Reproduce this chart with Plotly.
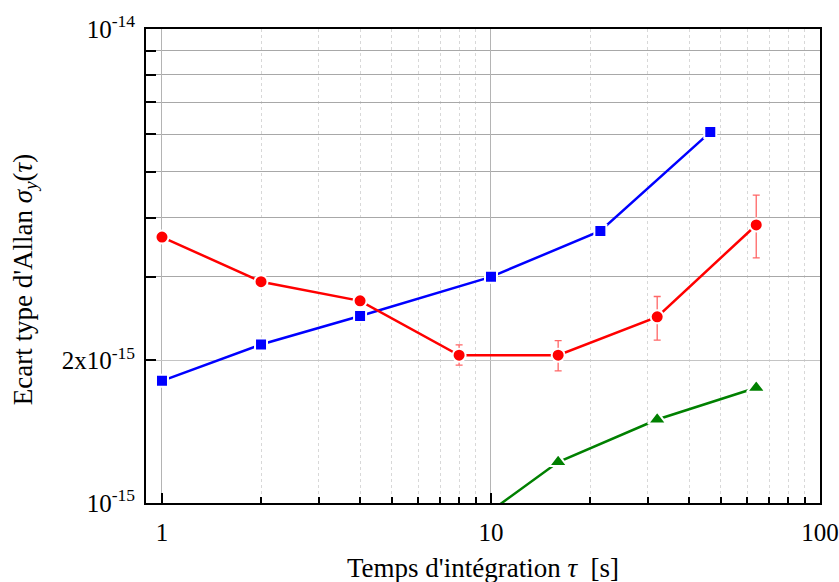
import plotly.graph_objects as go

# Data (tau in s, Allan deviation)
tau_blue = [1, 2, 4, 10, 21.5, 46.4]
sig_blue = [1.81e-15, 2.16e-15, 2.48e-15, 3.0e-15, 3.75e-15, 6.06e-15]

tau_red = [1, 2, 4, 8, 16, 32, 64]
sig_red = [3.64e-15, 2.93e-15, 2.67e-15, 2.05e-15, 2.05e-15, 2.47e-15, 3.86e-15]
err_red_plus = [0, 0, 0, 0.105e-15, 0.15e-15, 0.257e-15, 0.60e-15]
err_red_minus = [0, 0, 0, 0.097e-15, 0.15e-15, 0.263e-15, 0.57e-15]

tau_green = [8, 16, 32, 64]
sig_green = [8.6e-16, 1.22e-15, 1.50e-15, 1.75e-15]

x_major = [1, 10, 100]
x_major_text = ["1", "10", "100"]
x_minor = [2, 3, 4, 5, 6, 7, 8, 9, 20, 30, 40, 50, 60, 70, 80, 90]

y_major = [1e-15, 2e-15, 1e-14]
y_major_text = ["10<sup>-15</sup>", "2x10<sup>-15</sup>", "10<sup>-14</sup>"]
y_minor = [3e-15, 4e-15, 5e-15, 6e-15, 7e-15, 8e-15, 9e-15]

x_title = "Temps d'intégration <i>τ</i>  [s]"
y_title = "Ecart type d'Allan <i>σ<sub>y</sub></i>(<i>τ</i>)"

FONT = "Liberation Serif"

fig = go.Figure()

fig.add_trace(go.Scatter(
    x=tau_blue, y=sig_blue, mode="lines+markers",
    line=dict(color="#0000ff", width=2.5),
    marker=dict(symbol="square", size=12, color="#0000ff", line=dict(color="white", width=2)),
    showlegend=False,
))
fig.add_trace(go.Scatter(
    x=tau_red, y=sig_red, mode="lines+markers",
    line=dict(color="#ff0000", width=2.5),
    marker=dict(symbol="circle", size=13, color="#ff0000", line=dict(color="white", width=2)),
    error_y=dict(type="data", array=err_red_plus, arrayminus=err_red_minus,
                 color="#ff6666", thickness=1.3, width=3.5, visible=True),
    showlegend=False,
))
fig.add_trace(go.Scatter(
    x=tau_green, y=sig_green, mode="lines+markers",
    line=dict(color="#008000", width=2.5),
    marker=dict(symbol="triangle-up", size=16, color="#008000", line=dict(color="white", width=2)),
    showlegend=False,
))

fig.update_layout(
    width=839, height=582,
    margin=dict(l=146, r=19, t=29, b=79, autoexpand=False),
    paper_bgcolor="white", plot_bgcolor="white",
    font=dict(family=FONT, size=25, color="black"),
    xaxis=dict(
        type="log", range=[-0.0486, 2.0], automargin=False,
        tickmode="array", tickvals=x_major, ticktext=x_major_text,
        ticks="inside", ticklen=10, tickwidth=2, tickcolor="black",
        showline=True, linecolor="black", linewidth=2, mirror=True,
        showgrid=True, gridcolor="#b4b4b4", gridwidth=1,
        zeroline=False,
        tickfont=dict(family=FONT, size=25),
        ticklabelstandoff=6,
        minor=dict(tickmode="array", tickvals=x_minor, ticks="inside", ticklen=6,
                   tickwidth=2, tickcolor="black", showgrid=True,
                   gridcolor="#d8d8d8", griddash="dot", gridwidth=1),
    ),
    yaxis=dict(
        type="log", range=[-15, -14], automargin=False,
        tickmode="array", tickvals=y_major, ticktext=y_major_text,
        ticks="inside", ticklen=10, tickwidth=2, tickcolor="black",
        showline=True, linecolor="black", linewidth=2, mirror=True,
        showgrid=True, gridcolor="#c4c4c4", gridwidth=1,
        zeroline=False,
        tickfont=dict(family=FONT, size=25),
        ticklabelstandoff=4,
        minor=dict(tickmode="array", tickvals=y_minor, ticks="inside", ticklen=10,
                   tickwidth=2, tickcolor="black", showgrid=True,
                   gridcolor="#a8a8a8", gridwidth=1),
    ),
    annotations=[
        dict(text=y_title, textangle=-90, showarrow=False,
             xref="paper", yref="paper", x=-0.1795, y=0.47,
             xanchor="center", yanchor="middle",
             font=dict(family=FONT, size=27)),
        dict(text=x_title, showarrow=False,
             xref="paper", yref="paper", x=0.5, y=-0.137,
             xanchor="center", yanchor="middle",
             font=dict(family=FONT, size=27)),
    ],
)

fig.write_html(
    "out.html",
    config={"displayModeBar": False},
    post_script="document.body.style.margin='0';document.body.style.overflow='hidden';",
)
